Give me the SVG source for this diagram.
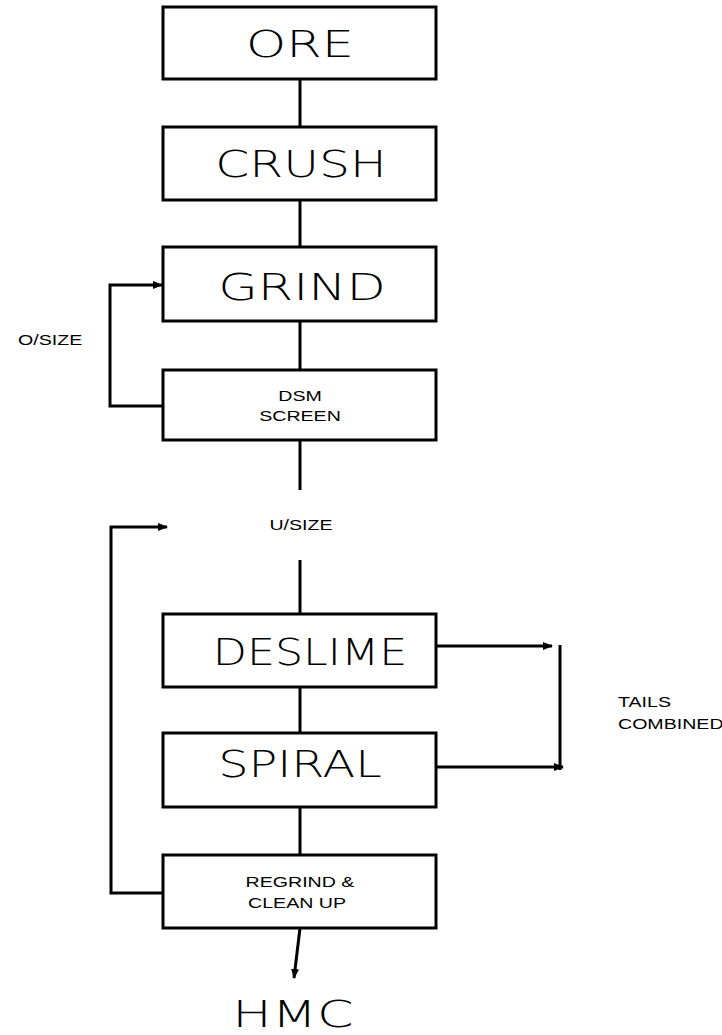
<svg xmlns="http://www.w3.org/2000/svg" width="722" height="1035" viewBox="0 0 722 1035">
<style>
.box{fill:#fff;stroke:#000;stroke-width:3}
.ln{fill:none;stroke:#000;stroke-width:3}
.big{font-family:"DejaVu Sans","Liberation Sans",sans-serif;font-size:37px;text-anchor:middle;fill:#000;font-weight:200}
.sm{font-family:"Liberation Sans",Arial,sans-serif;font-size:14px;text-anchor:middle;fill:#000}
.lab{font-family:"Liberation Sans",Arial,sans-serif;font-size:14px;fill:#000}
</style>
<defs>
<marker id="ah" markerWidth="10" markerHeight="8" refX="9" refY="4" orient="auto" markerUnits="userSpaceOnUse">
<path d="M0,0 L10,4 L0,8 Z" fill="#000"/>
</marker>
</defs>
<rect width="722" height="1035" fill="#fff"/>
<g id="connectors">
<line class="ln" x1="300" y1="79" x2="300" y2="127"/>
<line class="ln" x1="300" y1="200" x2="300" y2="247"/>
<line class="ln" x1="300" y1="321" x2="300" y2="370"/>
<polyline class="ln" points="163,406 110,406 110,285 162,285" marker-end="url(#ah)"/>
<line class="ln" x1="300" y1="440" x2="300" y2="490"/>
<line class="ln" x1="300" y1="560" x2="300" y2="614"/>
<line class="ln" x1="300" y1="687" x2="300" y2="733"/>
<line class="ln" x1="300" y1="807" x2="300" y2="855"/>
<polyline class="ln" points="163,893 111,893 111,527 167,527" marker-end="url(#ah)"/>
<line class="ln" x1="436" y1="646" x2="552" y2="646" marker-end="url(#ah)"/>
<line class="ln" x1="436" y1="767" x2="563" y2="767" marker-end="url(#ah)"/>
<line class="ln" x1="560" y1="645" x2="560" y2="770"/>
<line class="ln" x1="300" y1="928" x2="294" y2="978" marker-end="url(#ah)"/>
</g>
<g id="ore"><rect class="box" x="163" y="7" width="273" height="72"/><text class="big" transform="translate(300,57) scale(1.38,1)">ORE</text></g>
<g id="crush"><rect class="box" x="163" y="127" width="273" height="73"/><text class="big" transform="translate(301,177) scale(1.32,1)">CRUSH</text></g>
<g id="grind"><rect class="box" x="163" y="247" width="273" height="74"/><text class="big" transform="translate(302,300) scale(1.38,1)">GRIND</text></g>
<g id="dsm"><rect class="box" x="163" y="370" width="273" height="70"/><text class="sm" transform="translate(300,401) scale(1.4,1)">DSM</text><text class="sm" transform="translate(300,421) scale(1.4,1)">SCREEN</text></g>
<g id="osize"><text class="lab" transform="translate(18,345) scale(1.4,1)">O/SIZE</text></g>
<g id="usize"><text class="sm" transform="translate(301,530) scale(1.4,1)">U/SIZE</text></g>
<g id="deslime"><rect class="box" x="163" y="614" width="273" height="73"/><text class="big" transform="translate(310,665) scale(1.2,1)">DESLIME</text></g>
<g id="spiral"><rect class="box" x="163" y="733" width="273" height="74"/><text class="big" transform="translate(300,777) scale(1.29,1)">SPIRAL</text></g>
<g id="regrind"><rect class="box" x="163" y="855" width="273" height="73"/><text class="sm" transform="translate(300,887) scale(1.4,1)">REGRIND &amp;</text><text class="sm" transform="translate(297,908) scale(1.4,1)">CLEAN UP</text></g>
<g id="tails"><text class="lab" transform="translate(618,707) scale(1.4,1)">TAILS</text><text class="lab" transform="translate(618,729) scale(1.4,1)">COMBINED</text></g>
<g id="hmc"><text class="big" transform="translate(293,1027) scale(1.38,1)" style="font-size:38px">HMC</text></g>
</svg>
